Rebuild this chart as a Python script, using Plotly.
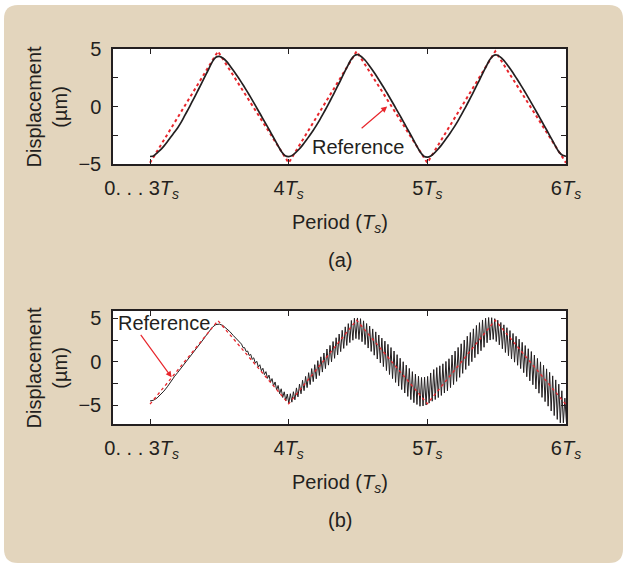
import numpy as np
import plotly.graph_objects as go

W, H = 623, 563
INK = "#231f20"
RED = "#e8262c"
FONT = "Liberation Sans, Arial, Helvetica, sans-serif"

# ---------------- data ----------------
# reference triangle (vertices), both panels
ref_t = [3.0, 3.49, 4.0, 4.49, 5.0, 5.49, 6.0]
ref_a = [-4.9, 4.8, -4.9, 4.8, -4.9, 4.8, -4.9]
ref_b = [-4.85, 4.75, -4.8, 4.8, -4.8, 4.8, -4.9]

# panel (a): measured displacement, sampled every 0.025 Ts from 3 Ts to 6 Ts
top_t = np.linspace(3.0, 6.0, 121)
top_y = [
    -4.35, -4.30, -4.05, -3.78, -3.45, -3.07, -2.66, -2.25, -1.84, -1.36,
    -0.80, -0.25, 0.33, 0.90, 1.50, 2.10, 2.70, 3.30, 3.90, 4.28,
    4.36, 4.22, 3.95, 3.57, 3.15, 2.72, 2.27, 1.80, 1.31, 0.81,
    0.30, -0.24, -0.76, -1.30, -1.82, -2.36, -2.90, -3.45, -3.95, -4.28,
    -4.36, -4.27, -4.02, -3.72, -3.36, -2.96, -2.54, -2.10, -1.64, -1.14,
    -0.60, -0.05, 0.52, 1.10, 1.70, 2.30, 2.92, 3.52, 4.08, 4.44,
    4.50, 4.33, 4.04, 3.66, 3.24, 2.80, 2.33, 1.85, 1.36, 0.85,
    0.33, -0.20, -0.73, -1.27, -1.81, -2.35, -2.90, -3.46, -3.98, -4.32,
    -4.40, -4.30, -4.05, -3.74, -3.38, -2.98, -2.56, -2.12, -1.66, -1.16,
    -0.62, -0.07, 0.50, 1.08, 1.68, 2.28, 2.90, 3.50, 4.06, 4.42,
    4.48, 4.32, 4.03, 3.65, 3.23, 2.79, 2.32, 1.84, 1.35, 0.84,
    0.32, -0.21, -0.74, -1.28, -1.82, -2.36, -2.91, -3.46, -3.97, -4.25,
    -4.33,
]

# panel (b): smooth start, sampled every 0.025 Ts from 3 Ts to 3.65 Ts
bot_smooth_t = np.linspace(3.0, 3.65, 27)
bot_smooth_y = [
    -4.48, -4.40, -4.15, -3.80, -3.35, -2.85, -2.20, -1.70, -1.20, -0.70,
    -0.20, 0.30, 0.80, 1.30, 1.85, 2.40, 2.95, 3.50, 4.00, 4.30,
    4.35, 4.20, 3.90, 3.50, 3.05, 2.60, 2.15,
]
# panel (b): oscillating part, one crest + one trough every 0.022 Ts from 3.66 Ts
osc_start, osc_half_step = 3.66, 0.011
osc_top = [
    2.05, 1.65, 1.26, 0.88, 0.48, 0.08, -0.32, -0.72, -1.11, -1.51,
    -1.91, -2.30, -2.70, -3.08, -3.43, -3.68, -3.65, -3.42, -2.98, -2.54,
    -2.10, -1.66, -1.23, -0.76, -0.31, 0.15, 0.59, 1.03, 1.49, 1.91,
    2.35, 2.79, 3.21, 3.64, 4.04, 4.41, 4.77, 5.03, 5.06, 4.98,
    4.73, 4.42, 4.12, 3.80, 3.46, 3.10, 2.74, 2.40, 2.03, 1.66,
    1.26, 0.84, 0.43, 0.03, -0.36, -0.74, -1.11, -1.40, -1.64, -1.78,
    -1.75, -1.66, -1.26, -0.87, -0.64, -0.44, -0.21, 0.06, 0.37, 0.80,
    1.25, 1.67, 2.09, 2.52, 2.96, 3.39, 3.81, 4.20, 4.52, 4.83,
    5.03, 5.11, 5.09, 4.98, 4.80, 4.54, 4.27, 3.94, 3.61, 3.28,
    2.95, 2.62, 2.26, 1.89, 1.52, 1.20, 0.80, 0.41, 0.01, -0.38,
    -0.79, -1.19, -1.60, -2.06, -2.55, -3.31, -4.16,
]
osc_bot = [
    1.64, 1.20, 0.75, 0.31, -0.13, -0.57, -1.01, -1.45, -1.88, -2.32,
    -2.76, -3.21, -3.65, -4.08, -4.46, -4.75, -4.62, -4.35, -4.01, -3.66,
    -3.30, -2.95, -2.60, -2.26, -1.93, -1.56, -1.16, -0.76, -0.36, 0.02,
    0.42, 0.82, 1.19, 1.56, 1.90, 2.23, 2.50, 2.69, 2.58, 2.33,
    2.00, 1.60, 1.21, 0.78, 0.34, -0.10, -0.53, -0.99, -1.44, -1.91,
    -2.35, -2.77, -3.17, -3.57, -3.96, -4.33, -4.68, -4.89, -5.09, -5.05,
    -4.95, -4.73, -4.51, -4.32, -4.09, -3.85, -3.57, -3.31, -2.95, -2.60,
    -2.23, -1.77, -1.31, -0.86, -0.42, 0.03, 0.49, 0.90, 1.29, 1.69,
    2.21, 2.52, 2.60, 2.35, 1.97, 1.52, 1.09, 0.72, 0.34, -0.02,
    -0.38, -0.76, -1.23, -1.70, -2.17, -2.62, -3.10, -3.59, -4.07, -4.56,
    -5.08, -5.63, -6.16, -6.60, -7.00, -7.00, -6.90,
]

x_tickvals = [3, 4, 5, 6]
x_ticktext = ["0. . . 3<i>T<sub>s</sub></i>\u00a0\u00a0\u00a0", "4<i>T<sub>s</sub></i>",
              "5<i>T<sub>s</sub></i>", "6<i>T<sub>s</sub></i>"]
y_tickvals = [-5, -2.5, 0, 2.5, 5]
y_ticktext = ["\u22125", "", "0", "", "5"]

# ---------------- build series ----------------
osc_y = []
for a, b in zip(osc_top, osc_bot):
    osc_y += [a, b]
osc_t = osc_start + osc_half_step * np.arange(len(osc_y))
bot_t = np.concatenate([bot_smooth_t, osc_t])
bot_y = list(bot_smooth_y) + osc_y

fig = go.Figure()
fig.add_trace(go.Scatter(x=ref_t, y=ref_a, mode="lines", xaxis="x", yaxis="y",
                         line=dict(color=RED, width=2, dash="dot"), hoverinfo="skip"))
fig.add_trace(go.Scatter(x=top_t, y=top_y, mode="lines", xaxis="x", yaxis="y",
                         line=dict(color=INK, width=1.7, shape="spline", smoothing=0.6)))
fig.add_trace(go.Scatter(x=bot_t, y=bot_y, mode="lines", xaxis="x2", yaxis="y2",
                         line=dict(color=INK, width=1.0)))
fig.add_trace(go.Scatter(x=ref_t, y=ref_b, mode="lines", xaxis="x2", yaxis="y2",
                         line=dict(color=RED, width=1.3, dash="3px,3px"), hoverinfo="skip"))

def xax(domain, anchor):
    return dict(domain=domain, anchor=anchor, range=[2.733, 6.0],
                tickvals=x_tickvals, ticktext=x_ticktext, tickangle=0,
                showline=True, linecolor=INK, linewidth=1.5, mirror="ticks",
                ticks="inside", ticklen=5, tickwidth=1, tickcolor=INK,
                showgrid=False, zeroline=False, ticklabelstandoff=5,
                tickfont=dict(family=FONT, size=20, color=INK))

def yax(domain, anchor, rng):
    return dict(domain=domain, anchor=anchor, range=rng,
                tickvals=y_tickvals, ticktext=y_ticktext,
                showline=True, linecolor=INK, linewidth=1.5, mirror="ticks",
                ticks="inside", ticklen=5, tickwidth=1, tickcolor=INK,
                showgrid=False, zeroline=False, ticklabelstandoff=6,
                tickfont=dict(family=FONT, size=20, color=INK))

XD = [113 / W, 566 / W]
YD1 = [1 - 164 / H, 1 - 49 / H]
YD2 = [1 - 424 / H, 1 - 311 / H]

# rounded beige panel
def P(px, py):
    return f"{px / W:.5f},{1 - py / H:.5f}"
x0, y0, x1, y1, r = 4, 5, 623, 563, 14
panel = (f"M {P(x0 + r, y0)} L {P(x1 - r, y0)} Q {P(x1, y0)} {P(x1, y0 + r)} "
         f"L {P(x1, y1 - r)} Q {P(x1, y1)} {P(x1 - r, y1)} "
         f"L {P(x0 + r, y1)} Q {P(x0, y1)} {P(x0, y1 - r)} "
         f"L {P(x0, y0 + r)} Q {P(x0, y0)} {P(x0 + r, y0)} Z")

shapes = [
    dict(type="path", path=panel, xref="paper", yref="paper",
         fillcolor="#e3d5bd", line=dict(width=0), layer="below"),
    dict(type="rect", xref="x domain", yref="y domain", x0=0, x1=1, y0=0, y1=1,
         fillcolor="white", line=dict(width=0), layer="below"),
    dict(type="rect", xref="x2 domain", yref="y2 domain", x0=0, x1=1, y0=0, y1=1,
         fillcolor="white", line=dict(width=0), layer="below"),
]

tf = dict(family=FONT, size=20, color=INK)
ann = []
for xr, yr in (("x", "y"), ("x2", "y2")):
    ann.append(dict(text="Displacement<br>(\u00b5m)", textangle=-90, xref=xr + " domain",
                    yref=yr + " domain", x=0, y=0.5, xshift=-67, showarrow=False,
                    xanchor="center", yanchor="middle", font=tf))
ann.append(dict(text="Period (<i>T<sub>s</sub></i>)", xref="x domain", yref="paper",
                x=0.5, y=1 - 223 / H, showarrow=False, yanchor="middle", font=tf))
ann.append(dict(text="(a)", xref="x domain", yref="paper",
                x=0.5, y=1 - 260 / H, showarrow=False, yanchor="middle", font=tf))
ann.append(dict(text="Period (<i>T<sub>s</sub></i>)", xref="x2 domain", yref="paper",
                x=0.5, y=1 - 483 / H, showarrow=False, yanchor="middle", font=tf))
ann.append(dict(text="(b)", xref="x2 domain", yref="paper",
                x=0.5, y=1 - 520 / H, showarrow=False, yanchor="middle", font=tf))
# "Reference" labels and arrows
ann.append(dict(text="Reference", xref="x", yref="y", x=4.50, y=-3.5,
                showarrow=False, font=tf))
ann.append(dict(text="", xref="x", yref="y", x=4.71, y=0.0, ax=-27, ay=23,
                showarrow=True, arrowhead=2, arrowsize=1, arrowwidth=1.2, arrowcolor=RED))
ann.append(dict(text="Reference", xref="x2", yref="y2", x=3.10, y=4.5,
                showarrow=False, font=tf))
ann.append(dict(text="", xref="x2", yref="y2", x=3.156, y=-1.76, ax=-32, ay=-44,
                showarrow=True, arrowhead=2, arrowsize=1, arrowwidth=1.2, arrowcolor=RED))

fig.update_layout(
    width=W, height=H, autosize=False,
    margin=dict(l=0, r=0, t=0, b=0, pad=0, autoexpand=False),
    paper_bgcolor="white", plot_bgcolor="rgba(0,0,0,0)",
    showlegend=False,
    xaxis=xax(XD, "y"), yaxis=yax(YD1, "x", [-5, 5]),
    xaxis2=xax(XD, "y2"), yaxis2=yax(YD2, "x2", [-7.13, 5.86]),
    shapes=shapes, annotations=ann,
)
fig.write_html("out.html", config={"responsive": False, "displayModeBar": False},
               post_script="document.body.style.margin='0';"
                           "document.documentElement.style.overflow='hidden';")
